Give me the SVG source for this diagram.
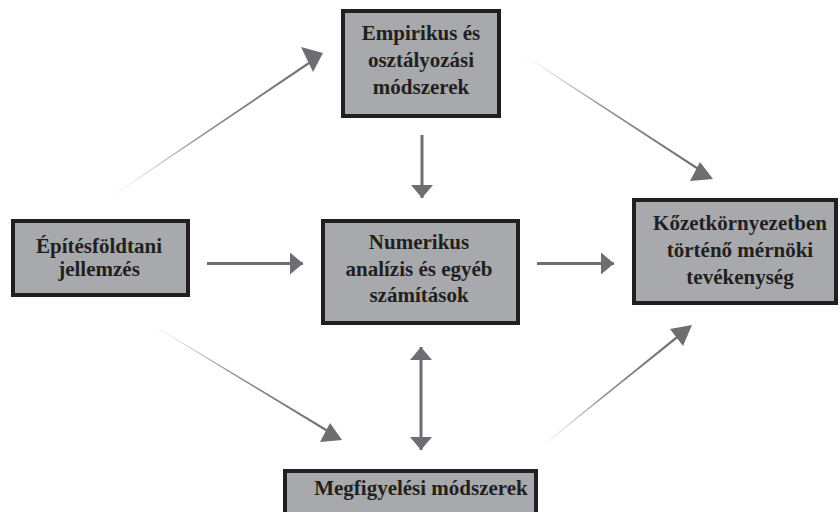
<svg xmlns="http://www.w3.org/2000/svg" width="840" height="512" viewBox="0 0 840 512">
  <style>
    .box { fill: #a7a9ac; stroke: #231f20; stroke-width: 4; }
    .lbl { font-family: "Liberation Serif", "Times New Roman", serif; font-weight: 700; font-size: 21px; fill: #231f20; text-anchor: middle; }
    .shaft { stroke: #6d6e71; stroke-width: 3; fill: none; }
    .head { fill: #6d6e71; }
  </style>
  <defs>
    <marker id="tip" viewBox="0 0 13 22" refX="13" refY="11" markerWidth="13" markerHeight="22" markerUnits="userSpaceOnUse" orient="auto-start-reverse">
      <path d="M0,0 L13,11 L0,22 Z" class="head"/>
    </marker>
    <linearGradient id="gUL" gradientUnits="userSpaceOnUse" x1="110" y1="197" x2="312" y2="61">
      <stop offset="0" stop-color="#6d6e71" stop-opacity="0"/>
      <stop offset="0.45" stop-color="#6d6e71" stop-opacity="0.8"/>
      <stop offset="1" stop-color="#6d6e71"/>
    </linearGradient>
    <linearGradient id="gUR" gradientUnits="userSpaceOnUse" x1="520" y1="53" x2="701" y2="171">
      <stop offset="0" stop-color="#6d6e71" stop-opacity="0"/>
      <stop offset="0.45" stop-color="#6d6e71" stop-opacity="0.8"/>
      <stop offset="1" stop-color="#6d6e71"/>
    </linearGradient>
    <linearGradient id="gLL" gradientUnits="userSpaceOnUse" x1="152" y1="325" x2="331" y2="433">
      <stop offset="0" stop-color="#6d6e71" stop-opacity="0"/>
      <stop offset="0.45" stop-color="#6d6e71" stop-opacity="0.8"/>
      <stop offset="1" stop-color="#6d6e71"/>
    </linearGradient>
    <linearGradient id="gLR" gradientUnits="userSpaceOnUse" x1="540" y1="448" x2="682" y2="333">
      <stop offset="0" stop-color="#6d6e71" stop-opacity="0"/>
      <stop offset="0.45" stop-color="#6d6e71" stop-opacity="0.8"/>
      <stop offset="1" stop-color="#6d6e71"/>
    </linearGradient>
  </defs>

  <g id="connectors">
    <!-- tapered diagonal links, fading in from their source end -->
    <polygon points="110,197 110.3,197.4 312.6,62 311.4,60" fill="url(#gUL)"/>
    <polygon points="301,47 323,53 313,72" class="head"/>

    <polygon points="520,53 520.3,52.6 702,170 700.8,172" fill="url(#gUR)"/>
    <polygon points="713,179 700,162 690,181" class="head"/>

    <polygon points="152,325 152.3,324.6 331.6,432 330.4,434" fill="url(#gLL)"/>
    <polygon points="342,440 330,423 320,442" class="head"/>

    <polygon points="540,448 539.7,447.6 681.5,332 683,334" fill="url(#gLR)"/>
    <polygon points="692,325 670,329 683,346" class="head"/>

    <!-- straight links -->
    <line class="shaft" x1="422" y1="135" x2="422" y2="198" marker-end="url(#tip)"/>
    <line class="shaft" x1="207" y1="263.5" x2="303" y2="263.5" marker-end="url(#tip)"/>
    <line class="shaft" x1="537" y1="263.5" x2="614" y2="263.5" marker-end="url(#tip)"/>
    <line class="shaft" x1="421" y1="347" x2="421" y2="450" marker-start="url(#tip)" marker-end="url(#tip)"/>
  </g>

  <g id="empirikus">
    <rect class="box" x="343" y="11" width="156" height="105"/>
    <text class="lbl" x="421" y="40">Empirikus és</text>
    <text class="lbl" x="421" y="67">osztályozási</text>
    <text class="lbl" x="421" y="94">módszerek</text>
  </g>

  <g id="epitesfoldtani">
    <rect class="box" x="13" y="221" width="175" height="74"/>
    <text class="lbl" x="99" y="253">Építésföldtani</text>
    <text class="lbl" x="99" y="276">jellemzés</text>
  </g>

  <g id="numerikus">
    <rect class="box" x="323" y="221" width="195" height="102"/>
    <text class="lbl" x="419" y="249">Numerikus</text>
    <text class="lbl" x="419" y="276">analízis és egyéb</text>
    <text class="lbl" x="419" y="302">számítások</text>
  </g>

  <g id="kozetkornyezet">
    <rect class="box" x="634" y="200" width="202" height="103"/>
    <text class="lbl" x="740" y="230">Kőzetkörnyezetben</text>
    <text class="lbl" x="740" y="257">történő mérnöki</text>
    <text class="lbl" x="740" y="284">tevékenység</text>
  </g>

  <g id="megfigyelesi">
    <rect class="box" x="285" y="471" width="251" height="50"/>
    <text class="lbl" x="421" y="495">Megfigyelési módszerek</text>
  </g>
</svg>
